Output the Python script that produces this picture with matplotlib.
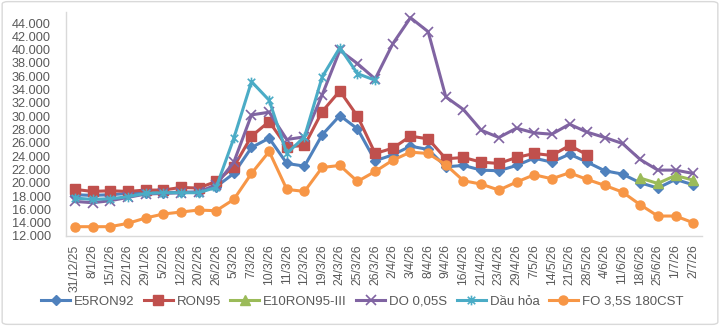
import numpy as np
import matplotlib
matplotlib.use("Agg")
import matplotlib.pyplot as plt
from matplotlib.path import Path
from matplotlib.patches import FancyBboxPatch
from matplotlib.ticker import FuncFormatter

nan = np.nan

dates = ["31/12/25", "8/1/26", "15/1/26", "22/1/26", "29/1/26", "5/2/26", "12/2/26",
         "20/2/26", "26/2/26", "5/3/26", "7/3/26", "10/3/26", "11/3/26", "12/3/26",
         "19/3/26", "24/3/26", "25/3/26", "26/3/26", "2/4/26", "3/4/26", "8/4/26",
         "9/4/26", "16/4/26", "21/4/26", "23/4/26", "29/4/26", "7/5/26", "14/5/26",
         "21/5/26", "28/5/26", "4/6/26", "11/6/26", "18/6/26", "25/6/26", "1/7/26", "2/7/26"]

e5ron92 = [18200, 18100, 18200, 18400, 18500, 18500, 18600, 18600, 19400, 21400, 25300, 26700,
           22900, 22500, 27200, 30100, 28100, 23300, 24200, 25500, 25000, 22400, 22600, 21900,
           21800, 22600, 23700, 23100, 24300, 23100, 21800, 21300, 20000, 19200, 20500, 19700]

ron95 = [19000, 18700, 18800, 18700, 18900, 18900, 19300, 19200, 20200, 22400, 27000, 29200,
         25400, 25600, 30700, 33800, 30000, 24400, 25200, 27000, 26600, 23600, 23800, 23100,
         22900, 23800, 24400, 24100, 25600, 24200, nan, nan, nan, nan, nan, nan]

e10ron95 = [nan] * 32 + [20700, 19900, 21100, 20400]

do005s = [17200, 17000, 17300, 17800, 18300, 18400, 18500, 18600, 19700, 23100, 30200, 30600,
          26500, 26900, 33200, 39900, 37900, 35600, 40900, 44800, 42700, 32900, 31000, 27900,
          26800, 28200, 27500, 27300, 28800, 27600, 26800, 25900, 23500, 21900, 21900, 21400]

dauhoa = [17700, 17500, 17600, 17900, 18400, 18500, 18500, 18500, 19300, 26700, 35200, 32400,
          24400, 26900, 35900, 40300, 36400, 35400] + [nan] * 18

fo = [13400, 13400, 13400, 13900, 14700, 15300, 15600, 15900, 15800, 17500, 21400, 24700,
      19000, 18700, 22300, 22600, 20200, 21700, 23400, 24600, 24400, 22700, 20300, 19800,
      18900, 20100, 21200, 20600, 21500, 20500, 19600, 18600, 16700, 15000, 15000, 14000]

series_names = ["E5RON92", "RON95", "E10RON95-III", "DO 0,05S", "Dầu hỏa", "FO 3,5S 180CST"]

plt.rcParams['font.family'] = ['Liberation Sans', 'DejaVu Sans']

fig = plt.figure(figsize=(7.2, 3.26), dpi=100)
ax = fig.add_axes([66/720, (326-236)/326, 636/720, 223.6/326])

x = np.arange(len(dates))

star = Path([(-1, -1), (1, 1), (-1, 1), (1, -1), (0, -1.3), (0, 1.3)],
            [Path.MOVETO, Path.LINETO, Path.MOVETO, Path.LINETO, Path.MOVETO, Path.LINETO])

lw = 2.2
ax.plot(x, e5ron92, color='#4F81BD', lw=lw, marker='D', ms=5, label=series_names[0])
ax.plot(x, ron95, color='#C0504D', lw=lw, marker='s', ms=6.5, label=series_names[1])
ax.plot(x, e10ron95, color='#9BBB59', lw=lw, marker='^', ms=7, label=series_names[2])
ax.plot(x, do005s, color='#8064A2', lw=lw, marker='x', ms=6.5, mew=1.2, label=series_names[3])
ax.plot(x, dauhoa, color='#4BACC6', lw=lw, marker=star, ms=7, mew=1.2, label=series_names[4])
ax.plot(x, fo, color='#F79646', lw=lw, marker='o', ms=6.5, label=series_names[5])

ax.set_xlim(-0.5, len(dates) - 0.5)
ax.set_ylim(12000, 45600)
ax.set_yticks(np.arange(12000, 44001, 2000))
ax.yaxis.set_major_formatter(FuncFormatter(lambda v, p: f"{int(v):,}".replace(",", ".")))
ax.set_xticks(x)
ax.set_xticklabels(dates, rotation=90)

for s in ['top', 'right']:
    ax.spines[s].set_visible(False)
for s in ['left', 'bottom']:
    ax.spines[s].set_color('#D9D9D9')
    ax.spines[s].set_linewidth(1.0)

ax.tick_params(axis='y', length=0, pad=11, labelsize=9.2, labelcolor='#595959')
ax.tick_params(axis='x', length=0, pad=6, labelsize=8.8, labelcolor='#595959')

fig.legend(loc='center', bbox_to_anchor=(0.503, 0.074), ncol=6, frameon=False,
           fontsize=9.5, handlelength=2.2, handletextpad=0.3, columnspacing=0.7,
           labelcolor='#595959')

border = FancyBboxPatch((0.003, 0.005), 0.994, 0.99, boxstyle="round,pad=0,rounding_size=0.008",
                        transform=fig.transFigure, fill=False, edgecolor='#D9D9D9', lw=1)
fig.patches.append(border)

fig.savefig("out.png", dpi=100)
